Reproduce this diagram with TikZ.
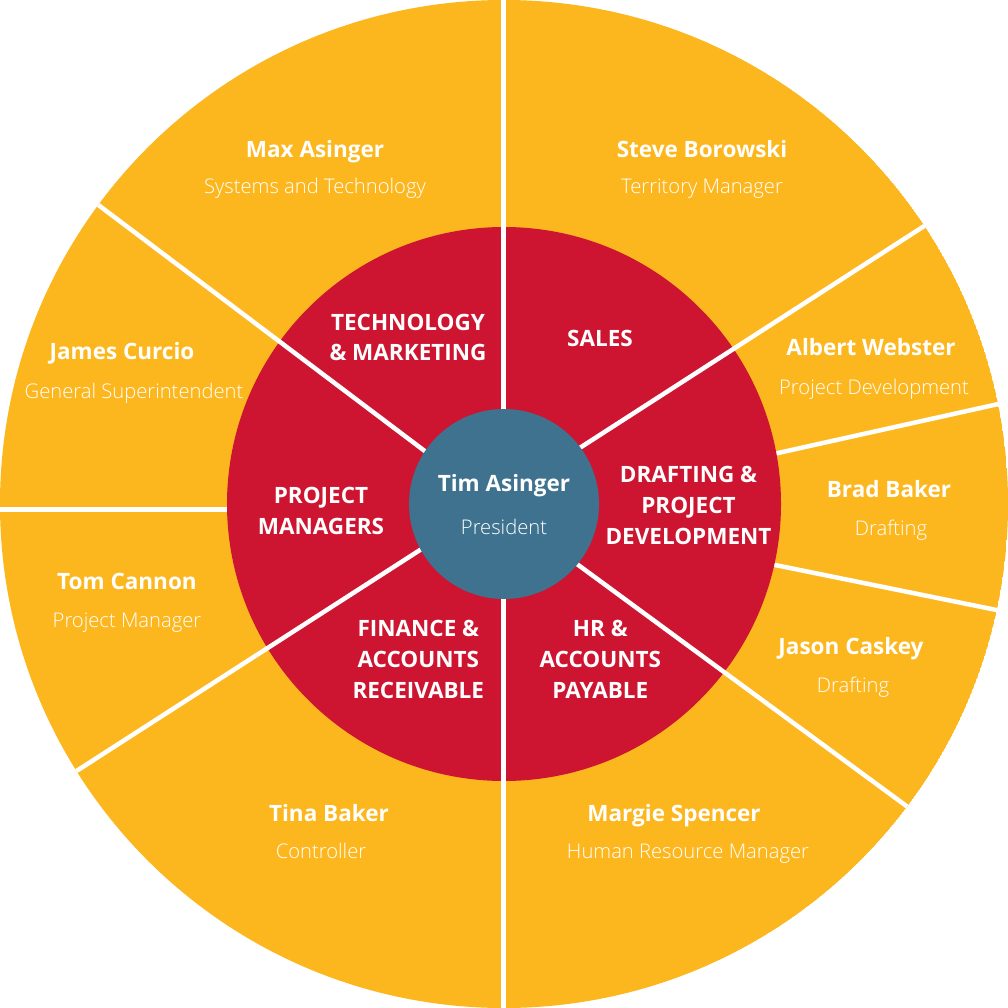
\documentclass[tikz,border=0pt]{standalone}
\usepackage{fontspec}
\setmainfont{Open Sans}
\IfFontExistsTF{Open Sans Light}{\newfontfamily\lightfont{Open Sans Light}}{\newfontfamily\lightfont{Open Sans}}
\definecolor{ringyellow}{HTML}{FDB71E}
\definecolor{ringred}{HTML}{CD1531}
\definecolor{coreblue}{HTML}{3E728E}
\begin{document}
\begin{tikzpicture}[x=1pt,y=-1pt,
  sep/.style={white, line width=4.5pt},
  dept/.style={text=white, font=\fontsize{22.5}{26}\selectfont\bfseries, anchor=base, inner sep=0pt},
  pname/.style={text=white, font=\fontsize{22.5}{26}\selectfont\bfseries, anchor=base, inner sep=0pt},
  prole/.style={text=white, font=\lightfont\fontsize{20.2}{24}\selectfont, anchor=base, inner sep=0pt}]
\useasboundingbox (0,0) rectangle (1008,1008);
\fill[white] (0,0) rectangle (1008,1008);
\coordinate (c) at (504,504);
\begin{scope}
  \clip (c) circle (504pt);
  \fill[ringyellow] (c) circle (504pt);
  % separators of the outer ring only
  \draw[sep] (747.4,459.8) -- (1027.6,397.5);
  \draw[sep] (745.6,559) -- (1026,616);
  \draw[sep] (-20,509.5) -- (260,509.5);
  \fill[ringred] (c) circle (277pt);
  % separators crossing both rings
  \draw[sep] (503.5,-10) -- (503.5,1018);
  \draw[sep] (439.3,462) -- (64,179.1);
  \draw[sep] (564.9,457.5) -- (960,203);
  \draw[sep] (562.2,553.2) -- (941,831.4);
  \draw[sep] (436.8,539.2) -- (41.5,793.5);
\end{scope}
\fill[coreblue] (c) circle (95pt);
% centre
\node[pname] (tim) at (504,491.7) {Tim Asinger};
\node[prole] (timr) at (504,534) {President};
% departments
\node[dept] (tech1) at (408,330.5) {TECHNOLOGY};
\node[dept] (tech2) at (408,360.5) {\& MARKETING};
\node[dept] (sales) at (600,346) {SALES};
\node[dept] (draft1) at (688.5,482) {DRAFTING \&};
\node[dept] (draft2) at (688.5,513) {PROJECT};
\node[dept] (draft3) at (688.5,544) {DEVELOPMENT};
\node[dept] (pm1) at (321,503) {PROJECT};
\node[dept] (pm2) at (321,534) {MANAGERS};
\node[dept] (fin1) at (418.3,636) {FINANCE \&};
\node[dept] (fin2) at (418.3,667) {ACCOUNTS};
\node[dept] (fin3) at (418.3,698) {RECEIVABLE};
\node[dept] (hr1) at (600.3,636) {HR \&};
\node[dept] (hr2) at (600.3,667) {ACCOUNTS};
\node[dept] (hr3) at (600.3,698) {PAYABLE};
% people
\node[pname] (max) at (315,158) {Max Asinger};
\node[prole] (maxr) at (315,194) {Systems and Technology};
\node[pname] (steve) at (702,158) {Steve Borowski};
\node[prole] (stever) at (702,194) {Territory Manager};
\node[pname] (albert) at (871,355) {Albert Webster};
\node[prole] (albertr) at (874,394) {Project Development};
\node[pname] (brad) at (889,497) {Brad Baker};
\node[prole] (bradr) at (891,535) {Drafting};
\node[pname] (jason) at (851,654) {Jason Caskey};
\node[prole] (jasonr) at (853,692) {Drafting};
\node[pname] (margie) at (674,821) {Margie Spencer};
\node[prole] (margier) at (688,858) {Human Resource Manager};
\node[pname] (tina) at (329,821) {Tina Baker};
\node[prole] (tinar) at (321,858) {Controller};
\node[pname] (tom) at (127,589) {Tom Cannon};
\node[prole] (tomr) at (127,627) {Project Manager};
\node[pname] (james) at (122,359) {James Curcio};
\node[prole] (jamesr) at (134,398) {General Superintendent};
\end{tikzpicture}
\end{document}
